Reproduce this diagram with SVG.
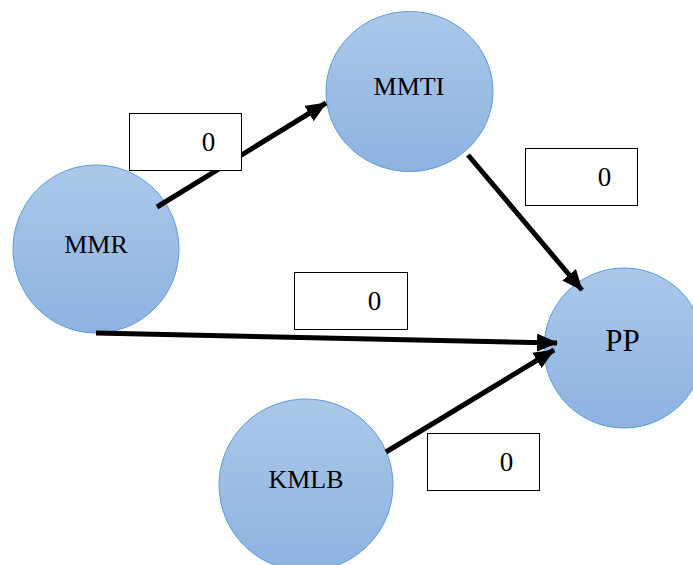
<svg xmlns="http://www.w3.org/2000/svg" width="693" height="565" viewBox="0 0 693 565">
<style>
.node{fill:url(#g);stroke:#5b9bd5;stroke-width:1}
.lbl{font-family:'Liberation Serif','Times New Roman',serif;font-size:26px;fill:#000;text-anchor:middle}
.box{fill:#fff;stroke:#000;stroke-width:1}
.num{font-family:'Liberation Serif','Times New Roman',serif;font-size:27px;fill:#000;text-anchor:middle}
.edge{stroke:#000;stroke-width:5;fill:none;marker-end:url(#ah)}
</style>
<defs>
<linearGradient id="g" x1="0" y1="0" x2="0" y2="1">
<stop offset="0" stop-color="#abc8e9"/>
<stop offset="1" stop-color="#8db3e0"/>
</linearGradient>
<marker id="ah" markerUnits="userSpaceOnUse" markerWidth="24" markerHeight="20" refX="20" refY="9" orient="auto">
<path d="M0,0 L21,9 L0,18 Z" fill="#000"/>
</marker>
</defs>
<g id="MMR"><ellipse class="node" cx="96" cy="249" rx="83" ry="84"/><text class="lbl" x="96" y="252.5">MMR</text></g>
<g id="MMTI"><ellipse class="node" cx="409.5" cy="91.5" rx="83.5" ry="80"/><text class="lbl" x="409" y="94.5">MMTI</text></g>
<g id="PP"><ellipse class="node" cx="624" cy="348" rx="80" ry="80"/><text class="lbl" x="622.5" y="351" style="font-size:31px">PP</text></g>
<g id="KMLB"><ellipse class="node" cx="306" cy="485" rx="87" ry="86"/><text class="lbl" x="306" y="488">KMLB</text></g>
<g id="connectors">
<line class="edge" x1="157" y1="207" x2="326" y2="103"/>
<line class="edge" x1="468" y1="155" x2="582" y2="290"/>
<line class="edge" x1="96" y1="333" x2="557" y2="343"/>
<line class="edge" x1="386" y1="452" x2="554" y2="350"/>
</g>
<g id="labels">
<rect class="box" x="129.5" y="113.5" width="112" height="57"/><text class="num" x="208.5" y="151">0</text>
<rect class="box" x="525.5" y="148.5" width="112" height="57"/><text class="num" x="604.5" y="186">0</text>
<rect class="box" x="294.5" y="272.5" width="113" height="57"/><text class="num" x="374.5" y="310">0</text>
<rect class="box" x="427.5" y="433.5" width="112" height="57"/><text class="num" x="506.5" y="471">0</text>
</g>
</svg>
